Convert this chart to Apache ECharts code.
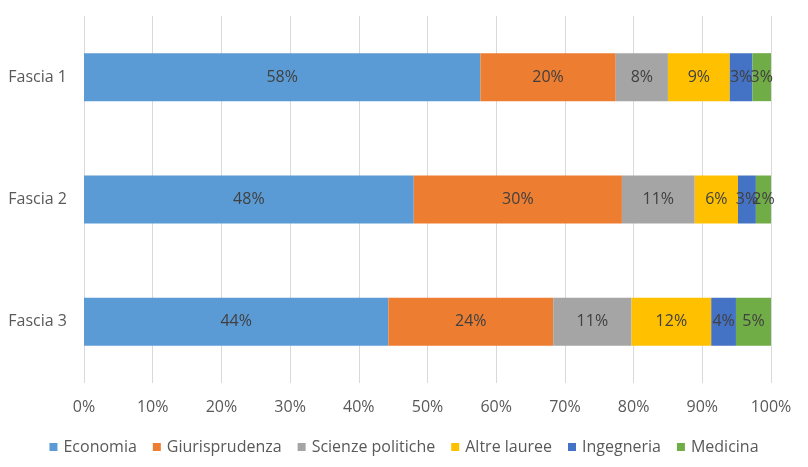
<!DOCTYPE html>
<html><head><meta charset="utf-8">
<script src="https://cdn.jsdelivr.net/npm/echarts@6/dist/echarts.min.js"></script>
<style>html,body{margin:0;padding:0;background:#fff}#c{width:808px;height:467px}</style>
</head><body><div id="c"></div>
<script>
const categories = ['Fascia 1', 'Fascia 2', 'Fascia 3'];
const seriesNames = ['Economia', 'Giurisprudenza', 'Scienze politiche', 'Altre lauree', 'Ingegneria', 'Medicina'];
const economia = [57.7, 48.0, 44.3];
const giurisprudenza = [19.7, 30.3, 24.0];
const scienzePolitiche = [7.6, 10.6, 11.4];
const altreLauree = [9.0, 6.3, 11.6];
const ingegneria = [3.3, 2.6, 3.6];
const medicina = [2.7, 2.2, 5.1];
const xTicks = [0, 10, 20, 30, 40, 50, 60, 70, 80, 90, 100];

const values = [economia, giurisprudenza, scienzePolitiche, altreLauree, ingegneria, medicina];
const colors = ['#5B9BD5', '#ED7D31', '#A5A5A5', '#FFC000', '#4472C4', '#70AD47'];
const font = 'Open Sans';

const chart = echarts.init(document.getElementById('c'));
chart.setOption({
  animation: false,
  textStyle: { fontFamily: font },
  grid: { left: 84, right: 37, top: 16, bottom: 84, containLabel: false },
  legend: {
    bottom: 7, left: 'center', itemWidth: 8, itemHeight: 8, itemGap: 16,
    icon: 'rect',
    textStyle: { color: '#595959', fontSize: 16, fontFamily: font, padding: [0, 0, 0, 1] },
    data: seriesNames
  },
  xAxis: {
    type: 'value', min: 0, max: 100, interval: 10,
    axisLine: { show: false }, axisTick: { show: false },
    splitLine: { lineStyle: { color: '#D9D9D9', width: 1 } },
    axisLabel: { color: '#595959', fontSize: 16, margin: 16, formatter: v => xTicks.includes(v) ? v + '%' : '' }
  },
  yAxis: {
    type: 'category', data: categories, inverse: true,
    axisLine: { show: false }, axisTick: { show: false },
    axisLabel: { color: '#595959', fontSize: 16, margin: 17 }
  },
  series: values.map((arr, i) => ({
    name: seriesNames[i], type: 'bar', stack: 'total',
    data: arr, barWidth: 48,
    itemStyle: { color: colors[i] },
    label: {
      show: true, position: 'inside', color: '#404040', fontSize: 16,
      formatter: p => Math.round(p.value) + '%'
    }
  }))
});
</script></body></html>
